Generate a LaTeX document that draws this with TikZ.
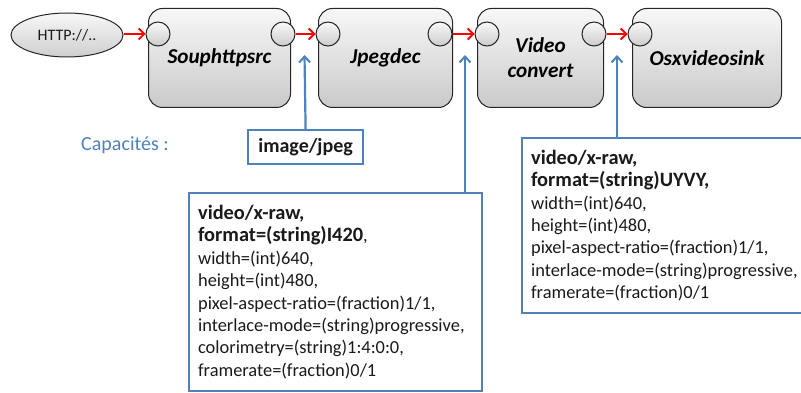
\documentclass[tikz,border=0pt]{standalone}
\usepackage{fontspec}
\setmainfont{Carlito}
\usetikzlibrary{arrows.meta,shapes.geometric}
\definecolor{capblue}{HTML}{4F81BD}
\definecolor{txt}{HTML}{1A1A1A}
\begin{document}
\begin{tikzpicture}[x=1pt,y=-1pt,
  elem/.style={draw=black!85, line width=1pt, rounded corners=14pt,
    top color=gray!6, bottom color=gray!42, anchor=north west, inner sep=0pt,
    minimum height=99pt, align=center,
    font=\fontsize{21.2}{25}\selectfont\bfseries\itshape},
  port/.style={circle, draw=black!85, line width=1pt, minimum size=24pt,
    inner sep=0pt, top color=gray!5, bottom color=gray!40},
  flow/.style={red, line width=1.9pt, -{Straight Barb[length=5.5pt,width=11pt,line width=1.9pt]}},
  capline/.style={capblue, line width=2.2pt, -{Straight Barb[length=6pt,width=11pt,line width=2pt]}},
  capbox/.style={draw=capblue, line width=2.2pt, fill=white, anchor=north west,
    text=txt},
  rawbox/.style={capbox, align=left, inner xsep=9pt, inner ysep=0pt,
    text width=275pt, font=\fontsize{18.4}{22.4}\selectfont}
]
\useasboundingbox (0,0) rectangle (801,393);
\clip (0,0) rectangle (801,393);

% source ellipse
\node[ellipse, draw=black!85, line width=1pt, minimum width=112pt, minimum height=44pt,
  top color=gray!6, bottom color=gray!38, inner sep=0pt,
  font=\fontsize{16}{19}\selectfont, text=txt] (http) at (67,35) {HTTP://..};

% elements
\node[elem, minimum width=142pt] (soup) at (148,8) {Souphttpsrc};
\node[elem, minimum width=134pt] (jpeg) at (318,8) {Jpegdec};
\node[elem, minimum width=126pt] (conv) at (477,8) {Video\\convert};
\node[elem, minimum width=149pt] (sink) at (632,8) {Osxvideosink};

% ports
\node[port] (soupin)  at (158,34) {};
\node[port] (soupout) at (283,34) {};
\node[port] (jpegin)  at (328,34) {};
\node[port] (jpegout) at (440,34) {};
\node[port] (convin)  at (487,34) {};
\node[port] (convout) at (594,34) {};
\node[port] (sinkin)  at (640,34) {};

% flow arrows
\draw[flow] (http.east |- soupin) -- (soupin.west);
\draw[flow] (soupout.east) -- (jpegin.west);
\draw[flow] (jpegout.east) -- (convin.west);
\draw[flow] (convout.east) -- (sinkin.west);

% capabilities
\node[text=capblue, font=\fontsize{20}{23}\selectfont] (caplabel) at (125,145) {Capacités :};

\node[capbox, minimum width=115pt, minimum height=34pt, inner sep=0pt,
  font=\fontsize{20}{24}\selectfont\bfseries] (jpg) at (247,129) {image/jpeg};

\node[rawbox, minimum height=198pt] (raw1) at (188,192) {%
{\fontsize{20.4}{22.4}\selectfont\bfseries video/x-raw,}\\
{\fontsize{20.4}{22.4}\selectfont\bfseries format=(string)I420},\\
width=(int)640,\\
height=(int)480,\\
pixel-aspect-ratio=(fraction)1/1,\\
interlace-mode=(string)progressive,\\
colorimetry=(string)1:4:0:0,\\
framerate=(fraction)0/1};

\node[rawbox, minimum height=175pt] (raw2) at (521,137) {%
{\fontsize{20.4}{22.4}\selectfont\bfseries video/x-raw,}\\
{\fontsize{20.4}{22.4}\selectfont\bfseries format=(string)UYVY,}\\
width=(int)640,\\
height=(int)480,\\
pixel-aspect-ratio=(fraction)1/1,\\
interlace-mode=(string)progressive,\\
framerate=(fraction)0/1};

\coordinate (tip1) at (304.5,55);
\coordinate (tip2) at (465,55);
\coordinate (tip3) at (617,55);
\draw[capline] (jpg.north) -- (tip1);
\draw[capline] (raw1.north -| tip2) -- (tip2);
\draw[capline] (raw2.north -| tip3) -- (tip3);
\end{tikzpicture}
\end{document}
